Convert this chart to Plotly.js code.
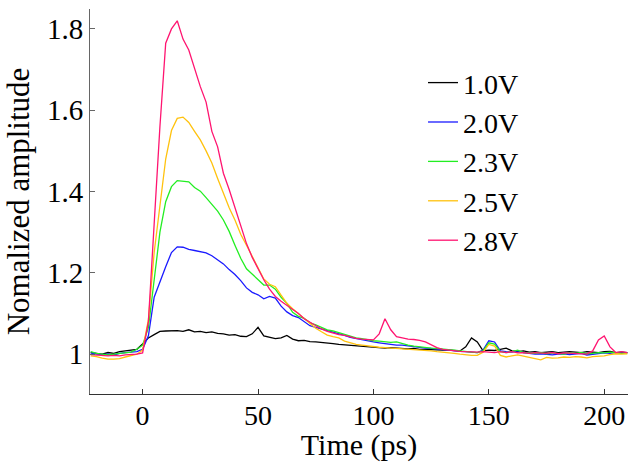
<!DOCTYPE html>
<html>
<head>
<meta charset="utf-8">
<script src="https://cdn.plot.ly/plotly-3.0.1.min.js"></script>
<style>html,body{margin:0;padding:0;background:#fff;}#chart{width:629px;height:462px;}</style>
</head>
<body>
<div id="chart"></div>
<script>
const time = [-22.5,-20,-17.5,-15,-12.5,-10,-7.5,-5,-2.5,0,2.5,5,7.5,10,12.5,15,17.5,20,22.5,25,27.5,30,32.5,35,37.5,40,42.5,45,47.5,50,52.5,55,57.5,60,62.5,65,67.5,70,72.5,75,77.5,80,82.5,85,87.5,90,92.5,95,97.5,100,102.5,105,107.5,110,112.5,115,117.5,120,122.5,125,127.5,130,132.5,135,137.5,140,142.5,145,147.5,150,152.5,155,157.5,160,162.5,165,167.5,170,172.5,175,177.5,180,182.5,185,187.5,190,192.5,195,197.5,200,202.5,205,207.5,210];

const v10 = [1.004,1.002,1.000,1.004,1.002,1.006,1.008,1.009,1.012,1.025,1.040,1.048,1.056,1.057,1.057,1.058,1.056,1.060,1.055,1.056,1.053,1.055,1.051,1.050,1.047,1.048,1.044,1.043,1.050,1.066,1.045,1.041,1.038,1.040,1.046,1.037,1.033,1.034,1.031,1.030,1.029,1.027,1.026,1.024,1.023,1.022,1.020,1.019,1.018,1.018,1.016,1.015,1.016,1.015,1.014,1.013,1.014,1.012,1.012,1.011,1.011,1.010,1.010,1.009,1.008,1.018,1.040,1.030,1.008,1.010,1.009,1.012,1.015,1.008,1.006,1.008,1.005,1.006,1.004,1.005,1.006,1.004,1.005,1.006,1.005,1.004,1.006,1.005,1.004,1.006,1.007,1.004,1.005,1.004];

const v20 = [1.003,1.000,0.999,1.000,0.998,1.002,1.004,1.005,1.006,1.012,1.045,1.140,1.180,1.215,1.250,1.264,1.263,1.258,1.255,1.252,1.249,1.242,1.232,1.222,1.208,1.196,1.181,1.163,1.152,1.146,1.136,1.142,1.138,1.118,1.104,1.095,1.090,1.080,1.070,1.066,1.062,1.058,1.055,1.050,1.046,1.041,1.038,1.035,1.032,1.030,1.028,1.026,1.024,1.022,1.022,1.020,1.018,1.016,1.015,1.014,1.012,1.011,1.010,1.008,1.007,1.006,1.005,1.004,1.010,1.033,1.030,1.008,1.006,1.005,1.008,1.004,1.002,1.000,1.001,1.000,0.998,1.000,1.001,0.999,1.000,1.002,0.998,1.000,1.002,1.003,1.002,1.004,1.003,1.004];

const v23 = [1.006,1.002,1.000,0.998,1.000,1.002,1.003,1.005,1.012,1.022,1.065,1.190,1.300,1.375,1.412,1.427,1.426,1.424,1.410,1.401,1.385,1.368,1.352,1.330,1.302,1.268,1.236,1.210,1.197,1.182,1.170,1.170,1.160,1.140,1.125,1.103,1.093,1.088,1.077,1.072,1.066,1.060,1.057,1.053,1.048,1.044,1.040,1.038,1.035,1.033,1.032,1.031,1.029,1.030,1.026,1.022,1.020,1.018,1.016,1.015,1.014,1.012,1.011,1.010,1.008,1.006,1.005,1.004,1.008,1.028,1.025,1.006,1.004,1.006,1.010,1.004,1.003,1.002,1.004,1.001,1.003,1.002,1.000,1.003,1.002,1.004,1.001,1.002,1.004,1.003,1.005,1.004,1.002,1.003];

const v25 = [0.996,0.994,0.990,0.988,0.988,0.989,0.993,0.996,1.000,1.010,1.085,1.250,1.370,1.480,1.550,1.580,1.583,1.570,1.548,1.527,1.500,1.470,1.432,1.396,1.360,1.330,1.295,1.268,1.240,1.212,1.185,1.172,1.166,1.145,1.125,1.112,1.100,1.088,1.074,1.064,1.055,1.047,1.043,1.040,1.032,1.028,1.024,1.022,1.020,1.019,1.017,1.016,1.015,1.015,1.014,1.013,1.012,1.010,1.009,1.008,1.006,1.005,1.004,1.002,1.000,0.998,0.997,0.997,1.005,1.024,1.020,0.997,0.993,0.996,0.998,0.995,0.992,0.988,0.986,0.992,0.990,0.991,0.993,0.992,0.994,0.993,0.991,0.994,0.995,0.996,0.999,1.001,1.000,1.001];

const v28 = [0.999,0.998,0.997,0.996,0.997,0.996,0.998,0.999,1.000,1.003,1.080,1.320,1.560,1.765,1.800,1.820,1.775,1.748,1.700,1.658,1.620,1.548,1.510,1.445,1.405,1.360,1.318,1.272,1.238,1.210,1.183,1.160,1.142,1.130,1.120,1.112,1.100,1.087,1.078,1.070,1.062,1.056,1.052,1.048,1.046,1.042,1.039,1.037,1.036,1.035,1.050,1.087,1.060,1.043,1.040,1.037,1.036,1.034,1.030,1.022,1.016,1.012,1.010,1.008,1.007,1.006,1.005,1.005,1.006,1.005,1.004,1.006,1.004,1.006,1.003,1.004,1.002,1.004,1.003,1.002,1.004,1.001,1.003,1.002,1.002,1.001,1.000,1.008,1.035,1.045,1.018,1.004,1.006,1.004];

const seriesNames = ['1.0V','2.0V','2.3V','2.5V','2.8V'];
const seriesValues = [v10, v20, v23, v25, v28];
const seriesColors = ['#000000','#1a1aff','#22ee22','#ffc20e','#ff1470'];

const traces = seriesNames.map((n, i) => ({
  x: time, y: seriesValues[i], name: n, type: 'scatter', mode: 'lines',
  line: {color: seriesColors[i], width: 1.3}
}));

const fam = 'Liberation Serif, Times New Roman, serif';
const mk = (s) => ({family: fam, size: s, color: '#000'});
const layout = {
  width: 629, height: 462,
  margin: {l: 90, r: 1, t: 9, b: 68},
  paper_bgcolor: '#fff', plot_bgcolor: '#fff',
  font: mk(29),
  showlegend: true,
  legend: {x: 0.619, y: 0.873, xanchor: 'left', yanchor: 'top', bgcolor: 'rgba(0,0,0,0)',
           font: mk(28), itemwidth: 30, tracegroupgap: 0},
  xaxis: {
    range: [-22.8, 210.3], showgrid: false, zeroline: false,
    showline: true, linecolor: '#333', linewidth: 1,
    ticks: 'inside', ticklen: 5, tickcolor: '#333',
    tickvals: [0, 50, 100, 150, 200], ticktext: ['0','50','100','150','200'],
    tickfont: mk(28), ticklabelstandoff: -4,
    title: {text: 'Time (ps)', font: mk(30), standoff: 3}
  },
  yaxis: {
    range: [0.902, 1.849], showgrid: false, zeroline: false,
    showline: true, linecolor: '#666', linewidth: 1,
    ticks: 'inside', ticklen: 5, tickcolor: '#666',
    tickvals: [1, 1.2, 1.4, 1.6, 1.8], ticktext: ['1','1.2','1.4','1.6','1.8'],
    tickfont: mk(29),
    title: {text: 'Nomalized amplitude', font: mk(31), standoff: 8}
  }
};
Plotly.newPlot('chart', traces, layout, {displayModeBar: false, staticPlot: true});
</script>
</body>
</html>
